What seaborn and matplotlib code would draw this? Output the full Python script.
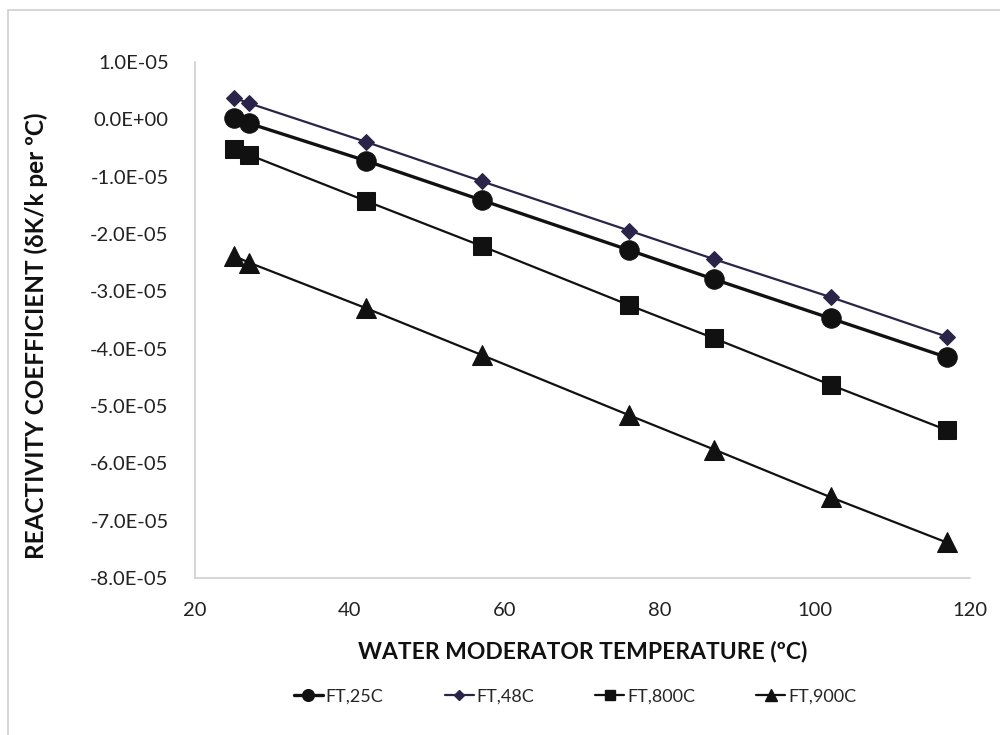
import numpy as np
import pandas as pd
import matplotlib
matplotlib.use("Agg")
import matplotlib.pyplot as plt
import seaborn as sns
from matplotlib.ticker import FuncFormatter, MultipleLocator
from matplotlib.lines import Line2D

# ---- data ----
temperature = [25, 27, 42, 57, 76, 87, 102, 117]
ft_25c = [0.03e-5, -0.07e-5, -0.72e-5, -1.41e-5, -2.28e-5, -2.79e-5, -3.47e-5, -4.15e-5]
ft_48c = [0.38e-5, 0.28e-5, -0.39e-5, -1.08e-5, -1.94e-5, -2.44e-5, -3.10e-5, -3.79e-5]
ft_800c = [-0.52e-5, -0.62e-5, -1.42e-5, -2.21e-5, -3.24e-5, -3.82e-5, -4.63e-5, -5.42e-5]
ft_900c = [-2.38e-5, -2.50e-5, -3.29e-5, -4.11e-5, -5.16e-5, -5.76e-5, -6.59e-5, -7.38e-5]
series_names = ["FT,25C", "FT,48C", "FT,800C", "FT,900C"]
x_ticks = [20, 40, 60, 80, 100, 120]
x_label = "WATER MODERATOR TEMPERATURE (ºC)"
y_label = "REACTIVITY COEFFICIENT (δK/k per ºC)"

sns.set_theme(style="white")
plt.rcParams['font.family'] = ['Lato', 'DejaVu Sans']

fig = plt.figure(figsize=(10, 7.35), dpi=100)
ax = fig.add_axes([0.195, 0.2136, 0.775, 0.702])

styles = [
    dict(marker="o", markersize=14, color="#111111", lw=2.4),
    dict(marker="D", markersize=8.5, color="#2a2448", lw=1.6),
    dict(marker="s", markersize=13, color="#111111", lw=1.6),
    dict(marker="^", markersize=14, color="#111111", lw=1.6),
]
all_series = [ft_25c, ft_48c, ft_800c, ft_900c]
for name, vals, st in zip(series_names, all_series, styles):
    df = pd.DataFrame({"x": temperature, "y": vals})
    sns.lineplot(data=df, x="x", y="y", ax=ax, color=st["color"],
                 marker=st["marker"], markersize=st["markersize"],
                 linewidth=st["lw"], markeredgecolor=st["color"],
                 markerfacecolor=st["color"], legend=False)

ax.set_xlim(20, 120)
ax.set_ylim(-8e-5, 1e-5)
ax.set_xticks(x_ticks)
ax.yaxis.set_major_locator(MultipleLocator(1e-5))
ax.yaxis.set_major_formatter(FuncFormatter(lambda v, p: f"{v:.1E}".replace("-0.0", "0.0")))
ax.tick_params(axis="both", length=0, labelsize=14.5, colors="#222222")
ax.tick_params(axis="y", pad=19)
ax.tick_params(axis="x", pad=17)
ax.set_xlabel(x_label, fontsize=16.5, fontweight="bold", color="#111111", labelpad=16)
ax.set_ylabel(y_label, fontsize=17.5, fontweight="bold", color="#111111")
ax.yaxis.set_label_coords(-0.19, 0.47)

for s in ["top", "right"]:
    ax.spines[s].set_visible(False)
for s in ["left", "bottom"]:
    ax.spines[s].set_color("#d0d0d0")
    ax.spines[s].set_linewidth(1.2)

handles = [Line2D([0], [0], color=st["color"], marker=st["marker"],
                  markersize=st["markersize"] * 0.6, linewidth=st["lw"])
           for st in styles]
fig.legend(handles, series_names, loc="center", bbox_to_anchor=(0.575, 0.052),
           ncol=4, frameon=False, fontsize=13, handlelength=1.6,
           handletextpad=0.15, columnspacing=3.4)

# outer chart border (top and left visible)
fig.add_artist(plt.Rectangle((0.008, -0.05), 1.1, 1.036, transform=fig.transFigure,
                             fill=False, edgecolor="#cfcfcf", linewidth=1.2))

fig.savefig("out.png", dpi=100, facecolor="white")
